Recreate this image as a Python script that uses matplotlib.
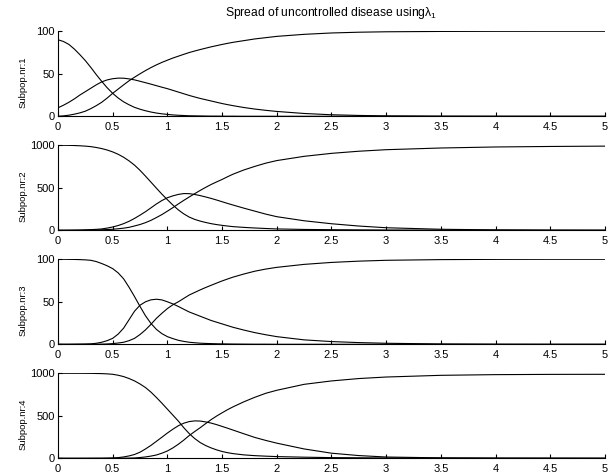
from matplotlib import pyplot as plt
from matplotlib.ticker import FormatStrFormatter

plt.rcParams['font.family'] = 'Liberation Sans'
plt.rcParams['mathtext.fontset'] = 'custom'
plt.rcParams['mathtext.rm'] = 'Liberation Sans'
plt.rcParams['font.size'] = 8

t = [0, 0.05, 0.1, 0.15, 0.2, 0.25, 0.3, 0.35, 0.4, 0.45, 0.5, 0.55, 0.6, 0.65,
     0.7, 0.75, 0.8, 0.85, 0.9, 0.95, 1.0, 1.05, 1.1, 1.15, 1.2, 1.25, 1.3,
     1.35, 1.4, 1.45, 1.5, 1.55, 1.6, 1.7, 1.8, 1.9, 2.0, 2.25, 2.5, 2.75, 3.0,
     3.5, 4.0, 4.5, 5.0]

## subpop 1
s1 = [90, 88, 84.5, 79, 72.5, 65.5, 57.5, 49, 41, 33.5, 27, 21.5, 17, 13.5,
      10.5, 8.3, 6.5, 5, 3.8, 2.9, 2.2, 1.6, 1.2, 0.9, 0.6, 0.5, 0.4,
      0.3, 0.2, 0.2, 0.1, 0.1, 0.1, 0, 0, 0, 0, 0, 0, 0, 0,
      0, 0, 0, 0]
i1 = [10, 13, 16.5, 20.5, 25, 29, 33, 37, 40.5, 42.8, 44.2, 44.9, 44.8, 44,
      42.8, 41.2, 39.5, 37.8, 36, 34.2, 32.5, 30.5, 28.5, 26.5, 24.5, 22.7, 21,
      19.5, 18, 16.5, 15, 13.7, 12.5, 10.3, 8.5, 7, 5.7, 3.3, 1.8, 1, 0.5,
      0.15, 0.05, 0, 0]
r1 = [0, 0.5, 1.3, 2.5, 4, 6, 9, 12.5, 16.5, 21.5, 27, 32, 37, 41.8,
      46, 50, 53.8, 57.3, 60.5, 63.4, 66, 68.5, 70.7, 72.9, 75, 76.8, 78.5,
      80.1, 81.7, 83.1, 84.5, 85.8, 87, 89, 91, 92.5, 94, 96.4, 98, 98.9, 99.4,
      99.8, 99.95, 100, 100]

## subpop 2
s2 = [1000, 999.5, 999, 997, 994, 990, 984, 974, 961, 944, 922, 894, 859, 816,
      766, 705, 637, 566, 495, 425, 360, 297, 240, 193, 155, 128, 108,
      92, 78, 67, 58, 50, 43, 34, 27, 21, 16, 10, 7, 5, 3.5,
      2, 1.5, 1, 1]
i2 = [0.5, 0.8, 1.3, 2, 3, 5, 8, 11, 16, 26, 39, 56, 78, 106,
      140, 178, 219, 264, 310, 350, 383, 405, 422, 432, 431, 421, 408,
      392, 375, 356, 336, 316, 297, 260, 225, 190, 160, 112, 77, 50, 30,
      12, 5, 2, 1]
r2 = [0, 0, 0, 0.5, 0.8, 1.5, 2.5, 4, 6, 8.5, 12, 18, 25, 35,
      51, 68, 90, 117, 150, 185, 225, 266, 310, 352, 392, 431, 469,
      505, 539, 569, 598, 630, 660, 710, 752, 790, 820, 870, 905, 930, 948,
      968, 980, 986, 990]

## subpop 3
s3 = [100, 100, 99.9, 99.8, 99.6, 99.3, 98.8, 97.3, 95, 92.3, 89, 84, 77, 67,
      56, 44.5, 33.5, 24.5, 17.5, 12.5, 9, 6.7, 4.7, 3.4, 2.4, 1.8, 1.3,
      1, 0.8, 0.6, 0.5, 0.4, 0.3, 0.2, 0.1, 0.1, 0, 0, 0, 0, 0,
      0, 0, 0, 0]
i3 = [0, 0, 0, 0.1, 0.2, 0.3, 0.5, 1.2, 2.4, 4.3, 7, 12, 19, 29,
      39, 46, 50, 52.3, 53, 52.2, 50, 47.5, 44.5, 41.2, 38, 35.5, 33,
      30.5, 28, 26, 24, 22, 20, 16.7, 13.7, 11.2, 9, 5.2, 3.2, 2, 1.2,
      0.4, 0.1, 0, 0]
r3 = [0, 0, 0, 0, 0, 0, 0.1, 0.1, 0.2, 0.4, 0.8, 1.5, 2.4, 4.3,
      7, 11.5, 17, 23.5, 30.6, 36.5, 42, 46.5, 50, 54, 58, 61, 64,
      66.8, 69.4, 72, 74.5, 76.8, 79, 82.7, 86, 88.5, 90.5, 94, 96.3, 97.8, 98.8,
      99.6, 99.9, 100, 100]

## subpop 4
s4 = [1000, 1000, 1000, 1000, 999.8, 999.5, 999, 997.5, 996, 993, 988, 977, 961, 938,
      910, 874, 832, 778, 715, 648, 578, 508, 438, 360, 290, 232, 185,
      150, 122, 99, 80, 66, 55, 40, 31, 25, 20, 13, 8, 6, 4,
      3, 2, 2, 2]
i4 = [0, 0, 0, 0, 0, 0, 0.5, 0.8, 1, 2, 4, 8, 16, 28,
      45, 72, 110, 152, 200, 248, 297, 342, 383, 413, 432, 440, 438,
      428, 414, 396, 375, 354, 332, 288, 245, 210, 178, 110, 60, 32, 15,
      5, 2, 1, 0]
r4 = [0, 0, 0, 0, 0, 0, 0, 0, 0, 0.2, 0.5, 1, 1.5, 2.5,
      4, 9, 16, 26, 39, 60, 86, 122, 165, 214, 268, 315, 360,
      408, 455, 497, 535, 572, 605, 665, 718, 765, 800, 870, 910, 938, 956,
      976, 984, 987, 988]

panels = [(s1, i1, r1, 100, [0, 50, 100]),
          (s2, i2, r2, 1000, [0, 500, 1000]),
          (s3, i3, r3, 100, [0, 50, 100]),
          (s4, i4, r4, 1000, [0, 500, 1000])]
bottoms = [0.7557, 0.5162, 0.2767, 0.0372]
xticks = [i / 2 for i in range(11)]

fig = plt.figure(figsize=(6.13, 4.76), dpi=100)
for k, (s, i, r, top, yt) in enumerate(panels):
    ax = fig.add_axes([0.0946, bottoms[k], 0.8923, 0.1786])
    for ys in (s, i, r):
        ax.plot(t, ys, color='black', lw=0.8)
    ax.set_xlim(0, 5)
    ax.set_ylim(0, top)
    ax.set_xticks(xticks)
    ax.set_yticks(yt)
    ax.xaxis.set_major_formatter(FormatStrFormatter('%g'))
    ax.spines['top'].set_visible(False)
    ax.spines['right'].set_visible(False)
    for sp in ('left', 'bottom'):
        ax.spines[sp].set_linewidth(0.8)
    ax.tick_params(direction='in', length=3, width=0.8)
    ax.tick_params(axis='x', pad=4)
    ax.tick_params(axis='y', pad=2.5)
    ax.set_ylabel('Subpop.nr:%d' % (k + 1), fontsize=6.8)
    ax.yaxis.set_label_coords(-0.055, 0.405)
    if k == 0:
        ax.set_title('Spread of uncontrolled disease using\u03bb$_1$',
                     fontsize=8.7, pad=11)

fig.savefig('out.png', dpi=100)
